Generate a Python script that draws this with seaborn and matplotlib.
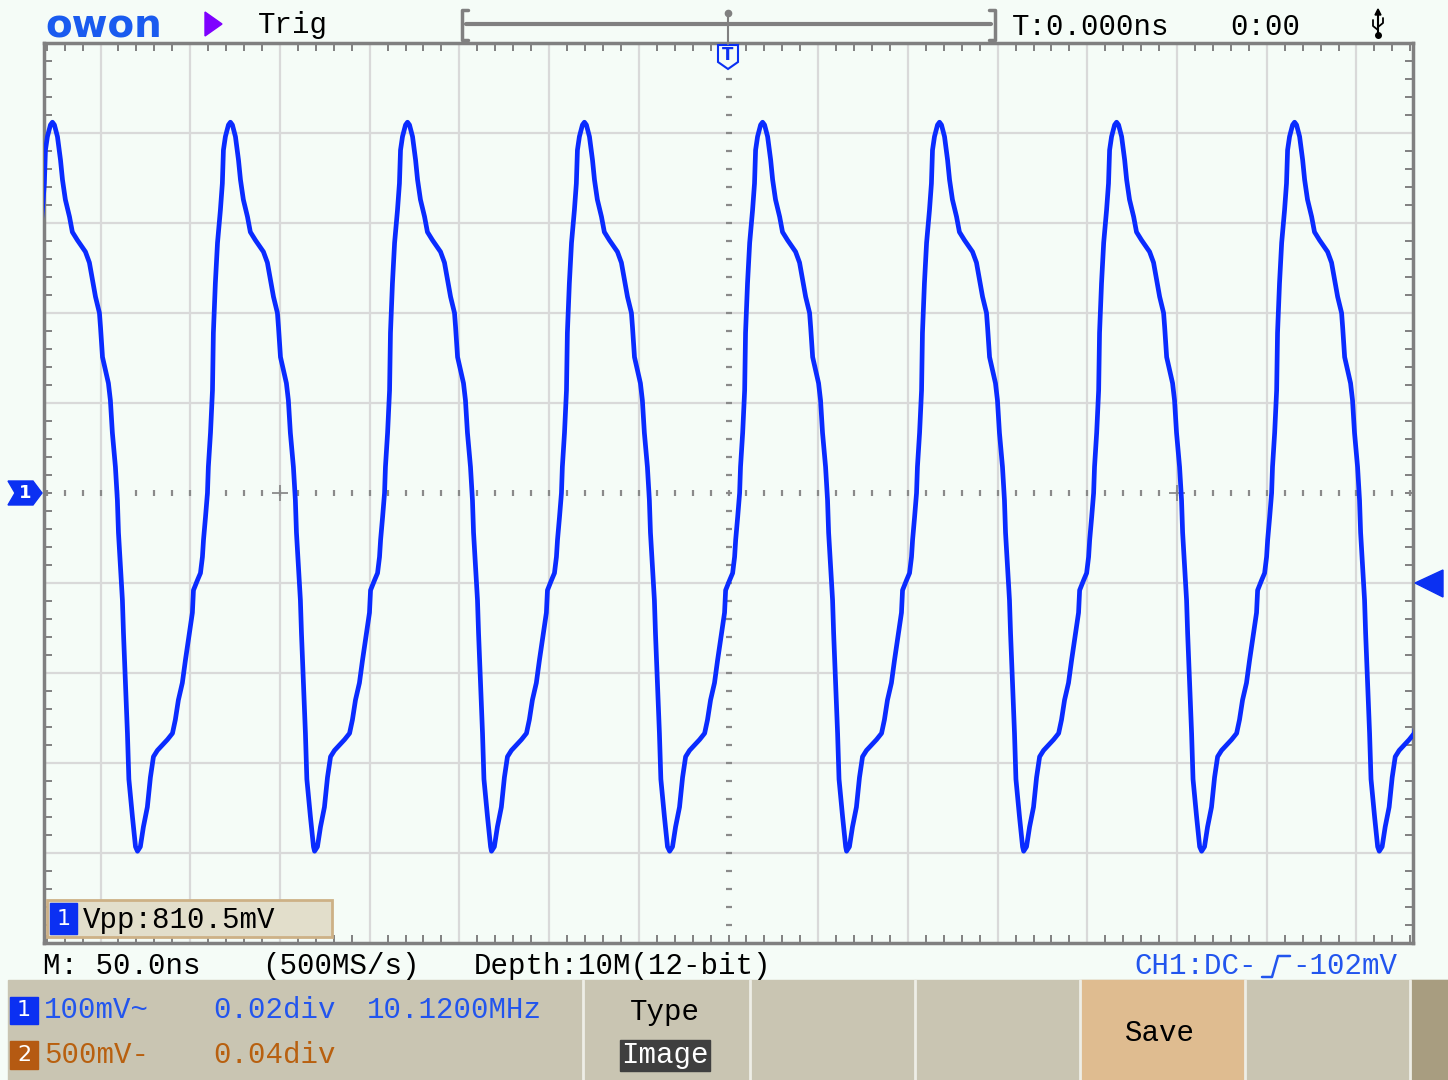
import numpy as np
import pandas as pd
import matplotlib
matplotlib.use('Agg')
import matplotlib.pyplot as plt
import seaborn as sns
from matplotlib.patches import Polygon, Rectangle

# --- Data ---
# One period of the CH1 trace: time from the peak (ns) and level (mV)
cycle_ns = [-51.8, -50.2, -48.5, -46.3, -44.6, -42.9, -40.7, -37.9, -35.1, -32.3,
            -30.7, -29.0, -26.8, -25.1, -23.4, -21.2, -20.6, -18.4, -16.7, -15.6,
            -15.0, -13.9, -12.8, -12.3, -11.1, -10.0, -9.5, -8.4, -7.2, -5.6,
            -4.5, -3.9, -2.8, -1.1, 0.0, 1.1, 2.8, 4.5, 5.6, 7.2,
            9.5, 11.1, 13.9, 16.7, 18.4, 20.6, 22.3, 24.0, 26.2, 26.8,
            27.9, 31.2, 32.3, 33.4, 35.1, 36.2, 36.8, 37.9, 39.0, 39.6,
            40.7, 41.8, 42.6, 44.6, 46.3]
cycle_mv = [-398, -393, -371, -349, -316, -293, -286, -280, -274, -267,
            -252, -230, -211, -186, -163, -133, -108, -97, -89, -71,
            -52, -27, 0, 29, 67, 114, 178, 233, 278, 314,
            344, 381, 396, 409, 412, 409, 396, 370, 348, 326,
            307, 290, 281, 273, 268, 256, 237, 218, 200, 184,
            151, 122, 103, 67, 29, -8, -44, -82, -119, -156,
            -211, -267, -318, -360, -393]
# Peak positions (ns from trigger); the last one is just past the right edge
peak_ns = [-376.8, -277.6, -178.9, -80.3, 19.0, 117.6, 216.3, 315.5, 414.5]

time_div = 50     # ns / div
volt_div = 100    # mV / div
x_half = 381.5    # screen half width in ns
y_half = 500      # screen half height in mV

# --- Colours ---
BG = '#F5FCF7'
GRID = '#D9D9D9'
FRAME = '#808080'
TRACE = '#0A2BFF'
CH1 = '#0B30F2'
CH1_TXT = '#2255EE'
CH2 = '#B55A12'
CH2_TXT = '#B8600F'
PANEL = '#C9C5B2'
SAVE = '#DFBC90'

# --- Build the trace ---
t = np.concatenate([p + np.array(cycle_ns) for p in peak_ns])
v = np.tile(cycle_mv, len(peak_ns))
df = pd.DataFrame({'t': t, 'mv': v})

sns.set_theme(style='white')
plt.rcParams['font.family'] = ['Liberation Mono', 'DejaVu Sans']

W, H = 1448, 1080
fig = plt.figure(figsize=(W / 100, H / 100), dpi=100, facecolor=BG)
ax = fig.add_axes([44 / W, 1 - 943 / H, 1369 / W, 900 / H])
ax.set_facecolor(BG)

# 1. Grid: solid lines every division, dotted centre lines
for k in range(-7, 8):
    if k != 0:
        ax.axvline(k * time_div, color=GRID, lw=1.6, zorder=1)
for k in range(-4, 5):
    if k != 0:
        ax.axhline(k * volt_div, color=GRID, lw=1.6, zorder=1)

xs = np.arange(-380, 381, 10)
ys = np.arange(-480, 481, 20)
ax.plot(xs, np.zeros_like(xs), ls='none', marker='|', ms=5, mew=1.6, color='#8A8A8A', zorder=2)
ax.plot(np.zeros_like(ys), ys, ls='none', marker='_', ms=5, mew=1.6, color='#8A8A8A', zorder=2)
ax.plot([-250, 250], [0, 0], ls='none', marker='+', ms=12, mew=1.3, color='#8A8A8A', zorder=2)

# 2. The trace
sns.lineplot(data=df, x='t', y='mv', sort=False, estimator=None,
             color=TRACE, lw=3.4, ax=ax, zorder=3)

ax.set_xlim(-x_half, x_half)
ax.set_ylim(-y_half, y_half)
ax.set_xticks(np.arange(-380, 381, 10))
ax.set_yticks(np.arange(-500, 501, 20))
ax.tick_params(which='both', direction='in', length=5.5, width=1.4, color=FRAME,
               top=True, right=True, bottom=True, left=True,
               labelbottom=False, labelleft=False)
ax.set_xlabel('')
ax.set_ylabel('')
for s in ax.spines.values():
    s.set_visible(True)
    s.set_color(FRAME)
    s.set_linewidth(2.5)

# 3. Overlay for the scope UI (pixel coordinates)
ov = fig.add_axes([0, 0, 1, 1], zorder=5)
ov.set_xlim(0, W)
ov.set_ylim(H, 0)
ov.axis('off')
ov.patch.set_visible(False)

FS = 21

# header
ov.text(45, 26, 'owon', color='#1A5BEF', fontsize=28, fontweight='bold',
        family='DejaVu Sans', va='center', ha='left')
ov.add_patch(Polygon([(205, 12), (222, 24), (205, 36)], color='#7F00FF'))
ov.text(258, 25, 'Trig', fontsize=FS, color='black', va='center')
ov.plot([468, 462, 462, 468], [10, 10, 40, 40], color=FRAME, lw=2.5)
ov.plot([989, 995, 995, 989], [10, 10, 40, 40], color=FRAME, lw=2.5)
ov.plot([466, 991], [24, 24], color=FRAME, lw=3)
ov.plot([728, 728], [12, 44], color=FRAME, lw=1.5)
ov.plot(728, 13, marker='o', ms=4.5, color=FRAME)
ov.text(1012, 27, 'T:0.000ns', fontsize=FS, color='black', va='center')
ov.text(1230, 27, '0:00', fontsize=FS, color='black', va='center')
# usb glyph
ov.plot([1378, 1378], [12, 36], color='black', lw=1.5)
ov.add_patch(Polygon([(1375, 15), (1381, 15), (1378, 9)], color='black'))
ov.plot([1373, 1373, 1378], [20, 26, 30], color='black', lw=1.3)
ov.plot([1383, 1383, 1378], [18, 23, 27], color='black', lw=1.3)
ov.plot(1378, 35, marker='o', ms=4, color='black')

# trigger position marker
ov.add_patch(Polygon([(718, 45), (738, 45), (738, 62), (728, 69), (718, 62)],
                     fc=BG, ec=CH1, lw=1.5))
ov.text(728, 55, 'T', fontsize=12, fontweight='bold', color=CH1,
        family='DejaVu Sans', ha='center', va='center')

# channel 1 ground marker and trigger level marker
ov.add_patch(Polygon([(8, 481), (33, 481), (42, 493), (33, 505), (8, 505), (15, 493)], color=CH1))
ov.text(25, 493, '1', color='white', fontsize=13, fontweight='bold',
        family='DejaVu Sans', ha='center', va='center')
ov.add_patch(Polygon([(1415, 583), (1443, 570), (1443, 597)], color=CH1))

# Vpp measurement box
ov.add_patch(Rectangle((47, 900), 285, 37, fc='#E2DECB', ec='#CDB186', lw=2))
ov.add_patch(Rectangle((50, 903), 27, 31, color=CH1))
ov.text(63.5, 919, '1', color='white', fontsize=16, family='DejaVu Sans',
        ha='center', va='center')
ov.text(83, 920, 'Vpp:810.5mV', fontsize=FS, color='black', va='center')

# status line
ov.text(43, 966, 'M: 50.0ns', fontsize=FS, color='black', va='center')
ov.text(262, 966, '(500MS/s)', fontsize=FS, color='black', va='center')
ov.text(474, 966, 'Depth:10M(12-bit)', fontsize=FS, color='black', va='center')
ov.text(1134, 966, 'CH1:DC-', fontsize=FS, color=CH1_TXT, va='center')
ov.plot([1262, 1272, 1278, 1290], [977, 977, 956, 956], color=CH1_TXT, lw=1.8)
ov.text(1292, 966, '-102mV', fontsize=FS, color=CH1_TXT, va='center')

# bottom menu panel
ov.add_patch(Rectangle((8, 980), W - 8, 100, color=PANEL))
ov.add_patch(Rectangle((1081, 980), 163, 100, color=SAVE))
ov.add_patch(Rectangle((1411, 980), W - 1411, 100, color='#A89D80'))
for x in [583, 750, 915, 1080, 1245, 1410]:
    ov.plot([x, x], [980, H], color='#EEEEE6', lw=2)

ov.add_patch(Rectangle((10, 997), 28, 27, color=CH1))
ov.text(24, 1010, '1', color='white', fontsize=16, family='DejaVu Sans',
        ha='center', va='center')
ov.text(44, 1010, '100mV~', fontsize=FS, color=CH1_TXT, va='center')
ov.text(213, 1010, '0.02div', fontsize=FS, color=CH1_TXT, va='center')
ov.text(367, 1010, '10.1200MHz', fontsize=FS, color=CH1_TXT, va='center')

ov.add_patch(Rectangle((10, 1041), 28, 28, color=CH2))
ov.text(24, 1055, '2', color='white', fontsize=16, family='DejaVu Sans',
        ha='center', va='center')
ov.text(44, 1055, '500mV-', fontsize=FS, color=CH2_TXT, va='center')
ov.text(213, 1055, '0.04div', fontsize=FS, color=CH2_TXT, va='center')

ov.text(665, 1012, 'Type', fontsize=FS, color='black', ha='center', va='center')
ov.add_patch(Rectangle((620, 1040), 90, 31, color='#3F3F3F'))
ov.text(665, 1055, 'Image', fontsize=FS, color='white', ha='center', va='center')
ov.text(1160, 1033, 'Save', fontsize=FS, color='black', ha='center', va='center')

fig.savefig('out.png', dpi=100, facecolor=BG)
